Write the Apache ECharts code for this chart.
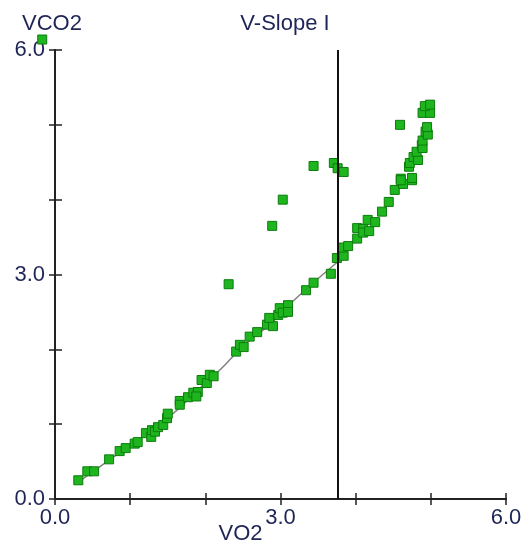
<!DOCTYPE html>
<html>
<head>
<meta charset="utf-8">
<script src="https://cdn.jsdelivr.net/npm/echarts@6/dist/echarts.min.js"></script>
<style>
html, body { margin: 0; padding: 0; background: #fff; }
#chart { width: 523px; height: 548px; }
</style>
</head>
<body>
<div id="chart"></div>
<script>
// VO2 / VCO2 measurements
const vo2 = [
  0.31, 0.43, 0.52, 0.72, 0.86, 0.94, 1.06, 1.10, 1.21, 1.28, 1.29, 1.33, 1.37, 1.44, 1.49, 1.50,
  1.66, 1.66, 1.77, 1.84, 1.90, 1.88, 1.95, 2.02, 2.06, 2.11, 2.41, 2.46, 2.51, 2.59, 2.69, 2.82,
  2.90, 2.85, 2.97, 2.99, 3.03, 3.10, 3.10, 3.34, 3.44, 3.67, 3.75, 3.84, 3.82, 3.90, 4.02, 4.02,
  4.10, 4.10, 4.18, 4.16, 4.26, 4.35, 4.44, 4.52, 4.60, 4.63, 4.60, 4.75, 4.75, 4.71, 4.72, 4.77,
  4.83, 4.81, 4.88, 4.89, 4.89, 4.93, 4.96, 4.95, 4.89, 4.99, 4.92, 4.99,
  4.59, 3.44, 3.71, 3.76, 3.84, 3.03, 2.89, 2.31, -0.17
];
const vco2 = [
  0.25, 0.37, 0.37, 0.53, 0.64, 0.68, 0.74, 0.76, 0.88, 0.83, 0.92, 0.90, 0.96, 0.99, 1.08, 1.14,
  1.31, 1.26, 1.36, 1.42, 1.43, 1.37, 1.59, 1.55, 1.66, 1.64, 1.97, 2.06, 2.03, 2.17, 2.23, 2.33,
  2.31, 2.42, 2.46, 2.55, 2.49, 2.59, 2.50, 2.79, 2.89, 3.01, 3.22, 3.25, 3.36, 3.38, 3.48, 3.62,
  3.61, 3.56, 3.58, 3.73, 3.70, 3.84, 3.97, 4.13, 4.28, 4.21, 4.26, 4.26, 4.29, 4.44, 4.49, 4.57,
  4.53, 4.64, 4.73, 4.69, 4.79, 4.91, 4.87, 4.97, 5.16, 5.16, 5.25, 5.27,
  5.00, 4.45, 4.49, 4.42, 4.37, 4.00, 3.65, 2.87, 6.14
];
// fitted slope line
const fitX = [0.30, 1.00, 1.50, 2.00, 2.20, 2.50, 2.90, 3.15, 3.75];
const fitY = [0.22, 0.72, 1.08, 1.55, 1.73, 2.04, 2.37, 2.63, 3.16];
const threshold = 3.76;

const chart = echarts.init(document.getElementById('chart'));
const textColor = '#1f2557';
const font = 'Liberation Sans, Arial, sans-serif';

const lbl = function (v) {
  return v % 3 === 0 ? v.toFixed(1) : '';
};

const axisBase = {
  type: 'value',
  min: 0,
  max: 6,
  interval: 1,
  splitLine: { show: false },
  axisLine: { show: true, onZero: false, lineStyle: { color: '#222', width: 2 } },
  axisTick: { show: true, length: 6, lineStyle: { color: '#222', width: 1.5 } }
};

const option = {
  animation: false,
  title: [
    { text: 'V-Slope I', left: 280, top: 8, textAlign: 'center',
      textStyle: { color: textColor, fontSize: 22, fontWeight: 'normal', fontFamily: font } },
    { text: 'VCO2', left: 17, top: 8,
      textStyle: { color: textColor, fontSize: 22, fontWeight: 'normal', fontFamily: font } }
  ],
  grid: { left: 55, right: 17, top: 50, bottom: 49, containLabel: false, outerBoundsMode: 'none' },
  xAxis: [
    Object.assign({}, axisBase, {
      name: 'VO2',
      nameLocation: 'middle',
      nameGap: 24,
      nameMoveOverlap: false,
      nameTextStyle: { color: textColor, fontSize: 22, fontFamily: font, padding: [0, 80, 0, 0] },
      axisLabel: { formatter: lbl, color: textColor, fontSize: 22, fontFamily: font, margin: 8 }
    }),
    Object.assign({}, axisBase, {
      position: 'bottom',
      axisTick: { show: true, inside: true, length: 6, lineStyle: { color: '#222', width: 1.5 } },
      axisLabel: { show: false }
    })
  ],
  yAxis: [
    Object.assign({}, axisBase, {
      axisLabel: { formatter: lbl, color: textColor, fontSize: 22, fontFamily: font, margin: 10 }
    }),
    Object.assign({}, axisBase, {
      position: 'left',
      axisTick: { show: true, inside: true, length: 7, lineStyle: { color: '#222', width: 1.5 } },
      axisLabel: { show: false }
    })
  ],
  series: [
    {
      type: 'line',
      data: fitX.map((x, i) => [x, fitY[i]]),
      smooth: true,
      symbol: 'none',
      lineStyle: { color: '#808080', width: 1.5 },
      z: 1
    },
    {
      type: 'scatter',
      data: vo2.map((x, i) => [x, vco2[i]]),
      symbol: 'rect',
      symbolSize: 9,
      clip: false,
      itemStyle: { color: '#1fb51f', borderColor: '#0c7d0c', borderWidth: 1, opacity: 1 },
      z: 3,
      markLine: {
        silent: true,
        symbol: 'none',
        label: { show: false },
        lineStyle: { color: '#111', width: 2, type: 'solid' },
        data: [{ xAxis: threshold }]
      }
    }
  ]
};

chart.setOption(option);
window.addEventListener('resize', function () {
  chart.resize();
});
</script>
</body>
</html>
